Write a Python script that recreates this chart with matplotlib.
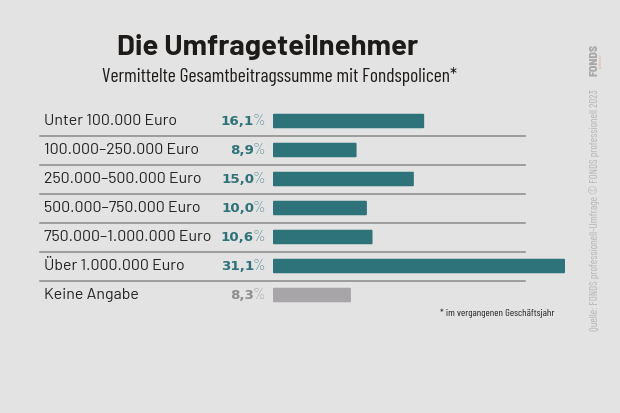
import matplotlib.pyplot as plt
from matplotlib.patches import FancyBboxPatch

# Data
categories = ['Unter 100.000 Euro', '100.000–250.000 Euro', '250.000–500.000 Euro',
              '500.000–750.000 Euro', '750.000–1.000.000 Euro', 'Über 1.000.000 Euro',
              'Keine Angabe']
shares = [16.1, 8.9, 15.0, 10.0, 10.6, 31.1, 8.3]
share_labels = ['16,1', '8,9', '15,0', '10,0', '10,6', '31,1', '8,3']

bg = '#e3e3e3'
teal = '#2e727a'
grey_bar = '#a8a5a8'
grey_txt = '#8d8d8f'

plt.rcParams['font.family'] = ['Barlow', 'DejaVu Sans']
COND = ['Barlow Condensed', 'DejaVu Sans']
SEMI = ['Barlow Semi Condensed', 'DejaVu Sans']

W, H = 620, 413
fig = plt.figure(figsize=(6.2, 4.13), dpi=100)
fig.patch.set_facecolor(bg)

# bar axes: x 0..31.1 -> 273..565 px, rows 121..295 px
x0, x1 = 273, 565
y_top, y_bot = 106.5, 309.5
ax = fig.add_axes([x0 / W, 1 - y_bot / H, (x1 - x0) / W, (y_bot - y_top) / H])
ax.set_xlim(0, 31.1)
ax.set_ylim(len(categories) - 0.5, -0.5)
ax.axis('off')
ax.patch.set_alpha(0)

bar_h = 0.5
for i, v in enumerate(shares):
    col = grey_bar if i == len(categories) - 1 else teal
    ax.add_patch(FancyBboxPatch((0, i - bar_h / 2), v, bar_h,
                                boxstyle='round,pad=0,rounding_size=0.12',
                                mutation_aspect=1 / 3.5,
                                facecolor=col, edgecolor='none'))

# text axes in figure pixels
tx = fig.add_axes([0, 0, 1, 1])
tx.set_xlim(0, W)
tx.set_ylim(H, 0)
tx.axis('off')
tx.patch.set_alpha(0)

row_y = [121 + 29 * i for i in range(len(categories))]
for i, (cat, lab) in enumerate(zip(categories, share_labels)):
    y = row_y[i]
    col = grey_txt if i == len(categories) - 1 else teal
    tx.text(44, y, cat, fontsize=11.5, color='#222222', ha='left', va='center')
    tx.text(254, y + 0.5, lab, fontsize=9.6, fontweight='bold', color=col, ha='right',
            va='center', family='DejaVu Sans')
    tx.text(265, y, '%', fontsize=11.5, fontweight='light', color=col, ha='right',
            va='center', family=COND)
    if i < len(categories) - 1:
        tx.plot([40, 525], [y + 14.5, y + 14.5], color='#8a8a8a', lw=1.1)

tx.text(117, 47, 'Die Umfrageteilnehmer', fontsize=21, fontweight='bold',
        color='#1e1a18', ha='left', va='center')
tx.text(102, 76, 'Vermittelte Gesamtbeitragssumme mit Fondspolicen*', fontsize=14,
        color='#1e1a18', ha='left', va='center', family=COND)
tx.text(440, 313, '* im vergangenen Geschäftsjahr', fontsize=7.5, color='#222222',
        ha='left', va='center', family=COND)

tx.text(594.5, 331, 'Quelle: FONDS professionell-Umfrage © FONDS professionell 2023',
        rotation=90, fontsize=7.8, color='#b5b5b5', ha='center', va='bottom',
        family=COND)
tx.text(594, 60, 'FONDS', rotation=90, fontsize=8.5, fontweight='heavy',
        color='#a8a8a8', ha='center', va='center', family=SEMI)
tx.text(600.5, 60, 'professionell', rotation=90, fontsize=2.5,
        color='#e0a78a', ha='center', va='center', family=COND)

fig.savefig('out.png', dpi=100, facecolor=bg)
